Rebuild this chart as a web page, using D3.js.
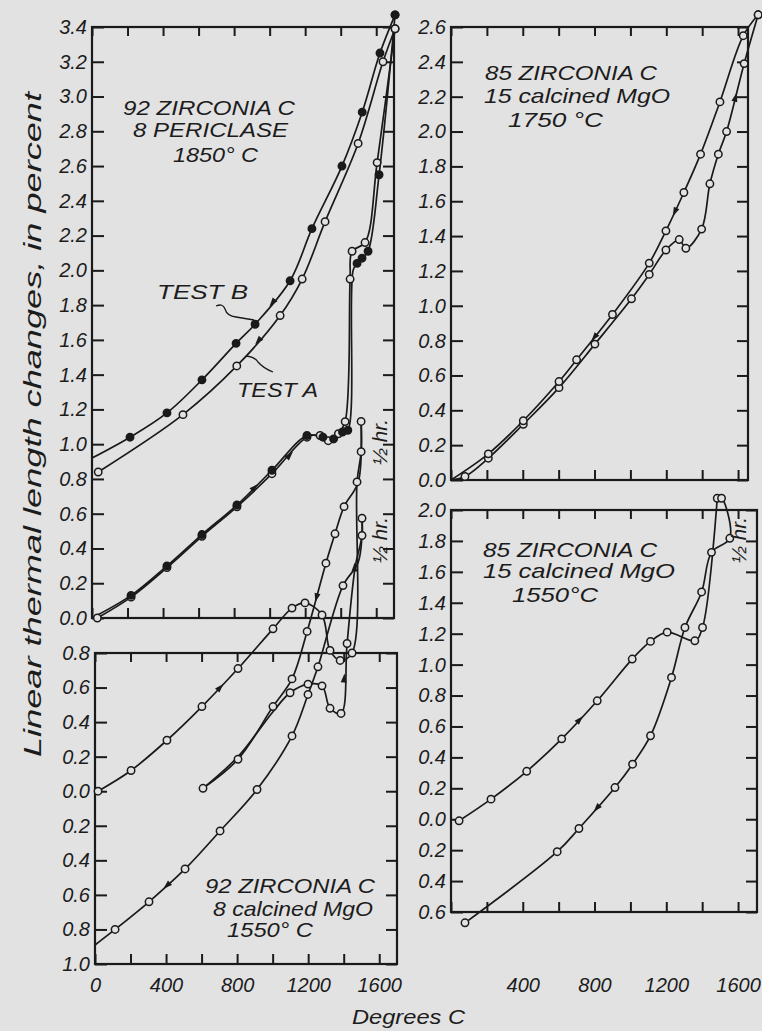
<!DOCTYPE html>
<html>
<head>
<meta charset="utf-8">
<script src="https://cdn.jsdelivr.net/npm/d3@7"></script>
<style>
body { margin: 0; background: #e2e2e2; }
svg { display: block; }
text { font-family: "Liberation Sans", Arial, sans-serif; font-style: italic; fill: #1c1c1c; }
</style>
</head>
<body>
<svg id="fig" width="762" height="1031"></svg>
<script>
// ---- data : [degrees C, percent, (0 = no point drawn)] ----
// 92 zirconia / 8 periclase, 1850 C
var aHeatA = [[30,0],[220,0.12],[422,0.29],[619,0.47],[816,0.64],[1013,0.83],[1210,1.04],[1284,1.05],[1330,1.02],[1387,1.06],[1425,1.13],[1453,1.95],[1464,2.11],[1537,2.16],[1605,2.62],[1706,3.39]],
    aHeatB = [[0,0,0],[220,0.13],[422,0.30],[619,0.48],[816,0.65],[1013,0.85],[1210,1.05],[1300,1.04],[1360,1.03],[1410,1.07],[1440,1.08],[1470,2.0,0],[1492,2.04],[1520,2.07],[1554,2.11],[1616,2.55],[1706,3.47]],
    aCoolA = [[1706,3.39],[1638,3.20],[1498,2.73],[1312,2.28],[1183,1.95],[1059,1.74],[815,1.45],[512,1.17],[35,0.84]],
    aCoolB = [[1706,3.47],[1621,3.25],[1521,2.91],[1407,2.60],[1238,2.24],[1115,1.94],[918,1.69],[811,1.58],[619,1.37],[422,1.18],[214,1.04],[0,0.92,0]];

// 85 zirconia / 15 calcined MgO, 1750 C
var bHeat = [[0,0,0],[78,0.02],[208,0.125],[403,0.32],[602,0.53],[802,0.78],[1006,1.04],[1105,1.18],[1198,1.32],[1272,1.38],[1309,1.33],[1397,1.44],[1443,1.70],[1490,1.87],[1536,2.0],[1634,2.39],[1712,2.67]],
    bCool = [[1712,2.67],[1629,2.55],[1499,2.17],[1391,1.87],[1298,1.65],[1198,1.43],[1105,1.245],[900,0.95],[700,0.69],[602,0.565],[403,0.34],[208,0.15],[0,0,0]];

// 92 zirconia / 8 calcined MgO, 1550 C
var c1Heat = [[17,0],[203,0.12],[405,0.295],[602,0.49],[805,0.71],[1002,0.94],[1109,1.06],[1182,1.09],[1278,1.02],[1323,0.815],[1380,0.757],[1447,0.80],[1475,1.79],[1498,1.965],[1498,2.14]],
    c1Cool = [[1498,2.14,0],[1482,1.79,0],[1402,1.647],[1351,1.49],[1300,1.32],[1194,0.925],[1109,0.65],[1002,0.49],[805,0.185],[608,0.017]],
    c2Heat = [[608,0.017,0],[805,0.2,0],[1002,0.46,0],[1098,0.57],[1199,0.62],[1278,0.61],[1323,0.48],[1385,0.45],[1419,0.855],[1465,1.3,0],[1503,1.48],[1503,1.58]],
    c2Cool = [[1503,1.58,0],[1503,1.48,0],[1480,1.32,0],[1396,1.19],[1255,0.72],[1199,0.56],[1109,0.32],[912,0.01],[704,-0.23],[507,-0.45],[304,-0.64],[113,-0.80],[0,-0.89,0]];

// 85 zirconia / 15 calcined MgO, 1550 C
var dHeat = [[45,-0.01],[223,0.13],[422,0.31],[617,0.52],[815,0.766],[1010,1.036],[1112,1.15],[1205,1.21],[1359,1.154],[1402,1.24],[1484,2.076]],
    dCool = [[1484,2.076,0],[1508,2.076],[1554,1.817],[1452,1.726],[1397,1.47],[1304,1.24],[1229,0.917],[1112,0.54],[1012,0.356],[914,0.205],[713,-0.06],[592,-0.21],[78,-0.67]];

var xTicks = d3.range(0, 1601, 200),
    xLabelsC = [0, 400, 800, 1200, 1600],
    xLabelsD = [400, 800, 1200, 1600],
    yTicksA = d3.range(0, 18).map(function(i){ return i/5; }),
    yTicksB = d3.range(0, 14).map(function(i){ return i/5; }),
    yTicksC = d3.range(-5, 5).map(function(i){ return i/5; }),
    yTicksD = d3.range(-3, 11).map(function(i){ return i/5; });

var bg = "#e2e2e2", ink = "#1a1a1a";

var panels = {
    A: {left:92,  right:394, top:27,  bottom:618, yMin:0,    yMax:3.4, frameR:394, yt:yTicksA},
    B: {left:451, right:756, top:27,  bottom:480, yMin:0,    yMax:2.6, frameR:748, yt:yTicksB},
    C: {left:95,  right:397, top:653, bottom:964, yMin:-1.0, yMax:0.8, frameR:397, yt:yTicksC, xl:xLabelsC},
    D: {left:451, right:756, top:510, bottom:912, yMin:-0.6, yMax:2.0, frameR:757, yt:yTicksD, xl:xLabelsD}
};

var seriesList = [
    {p:"A", pts:aHeatA, mark:"open",   arrows:[5]},
    {p:"A", pts:aHeatB, mark:"filled", arrows:[4]},
    {p:"A", pts:aCoolA, mark:"open",   arrows:[5]},
    {p:"A", pts:aCoolB, mark:"filled", arrows:[5]},
    {p:"B", pts:bHeat,  mark:"open",   arrows:[14]},
    {p:"B", pts:bCool,  mark:"open",   arrows:[4, 7]},
    {p:"C", pts:c1Heat, mark:"open",   arrows:[3, 11]},
    {p:"C", pts:c1Cool, mark:"open",   arrows:[4]},
    {p:"C", pts:c2Heat, mark:"open",   arrows:[7]},
    {p:"C", pts:c2Cool, mark:"open",   arrows:[9]},
    {p:"D", pts:dHeat,  mark:"open",   arrows:[3]},
    {p:"D", pts:dCool,  mark:"open",   arrows:[9]}
];

var notes = [
    {t:"92 ZIRCONIA  C",  x:123, y:115,  w:172},
    {t:"8 PERICLASE",     x:133, y:137,  w:155},
    {t:"1850° C",         x:173, y:162,  w:85},
    {t:"TEST B",          x:157, y:299,  w:91},
    {t:"TEST A",          x:237, y:397,  w:81},
    {t:"85 ZIRCONIA  C",  x:485, y:80,   w:172},
    {t:"15 calcined MgO", x:484, y:103,  w:186},
    {t:"1750 °C",         x:508, y:127,  w:95},
    {t:"85 ZIRCONIA  C",  x:483, y:557,  w:174},
    {t:"15 calcined MgO", x:483, y:578,  w:192},
    {t:"1550°C",          x:512, y:602,  w:86},
    {t:"92 ZIRCONIA C",   x:205, y:893,  w:170},
    {t:"8 calcined MgO",  x:213, y:916,  w:160},
    {t:"1550° C",         x:227, y:937,  w:86},
    {t:"Degrees C",       x:352, y:1024, w:113}
];

var halfHr = [[387, 442], [387, 540], [746, 540]];

var svg = d3.select("#fig");
svg.append("rect").attr("width", 762).attr("height", 1031).attr("fill", bg);

// scales
Object.keys(panels).forEach(function(k){
    var p = panels[k];
    p.x = d3.scaleLinear().domain([0, 1700]).range([p.left, p.right]);
    p.y = d3.scaleLinear().domain([p.yMin, p.yMax]).range([p.bottom, p.top]);
});

function fmt(d){ return Math.abs(d).toFixed(1); }

// frames and axes
Object.keys(panels).forEach(function(k){
    var p = panels[k],
        g = svg.append("g").style("color", ink);

    g.append("rect")
        .attr("x", p.left).attr("y", p.top)
        .attr("width", p.frameR - p.left).attr("height", p.bottom - p.top)
        .attr("fill", "none").attr("stroke", ink).attr("stroke-width", 2.2);

    g.append("g").attr("transform", "translate(" + p.left + ",0)")
        .call(d3.axisLeft(p.y).tickValues(p.yt).tickSize(-12).tickSizeOuter(0).tickPadding(5).tickFormat(fmt))
        .attr("font-size", 20);
    g.append("g").attr("transform", "translate(" + p.frameR + ",0)")
        .call(d3.axisRight(p.y).tickValues(p.yt).tickSize(-11).tickSizeOuter(0).tickFormat(""));
    g.append("g").attr("transform", "translate(0," + p.top + ")")
        .call(d3.axisTop(p.x).tickValues(xTicks).tickSize(-9).tickSizeOuter(0).tickFormat(""));
    g.append("g").attr("transform", "translate(0," + p.bottom + ")")
        .call(d3.axisBottom(p.x).tickValues(xTicks).tickSize(-10).tickSizeOuter(0).tickFormat(""));

    if(p.xl){
        g.append("g").attr("transform", "translate(0,964)")
            .call(d3.axisBottom(p.x).tickValues(p.xl).tickSize(0).tickPadding(14).tickFormat(d3.format("d")))
            .attr("font-size", 20);
    }
    g.selectAll(".domain").remove();
    g.selectAll(".tick line").attr("stroke-width", 2);
});

// curves
var lineCont = svg.append("g"), dotCont = svg.append("g");

seriesList.forEach(function(s){
    var p = panels[s.p],
        line = d3.line()
            .x(function(d){ return p.x(d[0]); })
            .y(function(d){ return p.y(d[1]); })
            .curve(d3.curveCatmullRom.alpha(0.5));

    lineCont.append("path")
        .attr("d", line(s.pts))
        .attr("fill", "none")
        .attr("stroke", ink)
        .attr("stroke-width", 1.7);

    s.arrows.forEach(function(i){
        var a = s.pts[i], b = s.pts[i+1],
            x0 = p.x(a[0]), y0 = p.y(a[1]), x1 = p.x(b[0]), y1 = p.y(b[1]),
            ang = Math.atan2(y1 - y0, x1 - x0) * 180 / Math.PI;
        lineCont.append("path")
            .attr("d", "M5,0L-4,-3L-4,3Z")
            .attr("fill", ink)
            .attr("transform", "translate(" + (x0 + x1)/2 + "," + (y0 + y1)/2 + ") rotate(" + ang + ")");
    });

    dotCont.selectAll(null)
        .data(s.pts.filter(function(d){ return d[2] !== 0; }))
        .enter()
        .append("circle")
        .attr("cx", function(d){ return p.x(d[0]); })
        .attr("cy", function(d){ return p.y(d[1]); })
        .attr("r", 3.7)
        .attr("fill", s.mark === "filled" ? ink : bg)
        .attr("stroke", ink)
        .attr("stroke-width", 1.5);
});

// leaders for TEST A / TEST B
svg.append("path")
    .attr("d", "M216,306 q7,-3 9,3 q2,7 11,8 L254,320")
    .attr("fill", "none").attr("stroke", ink).attr("stroke-width", 1.3);
svg.append("path")
    .attr("d", "M246,356 q9,1 12,6 q5,6 15,10")
    .attr("fill", "none").attr("stroke", ink).attr("stroke-width", 1.3);

// labels
svg.selectAll(".note")
    .data(notes)
    .enter()
    .append("text")
    .attr("class", "note")
    .attr("x", function(d){ return d.x; })
    .attr("y", function(d){ return d.y; })
    .attr("textLength", function(d){ return d.w; })
    .attr("lengthAdjust", "spacingAndGlyphs")
    .style("font-size", "21px")
    .text(function(d){ return d.t; });

svg.selectAll(".half")
    .data(halfHr)
    .enter()
    .append("text")
    .attr("class", "half")
    .attr("transform", function(d){ return "translate(" + d[0] + "," + d[1] + ") rotate(-90)"; })
    .attr("text-anchor", "middle")
    .attr("textLength", 46)
    .attr("lengthAdjust", "spacingAndGlyphs")
    .style("font-size", "20px")
    .text("½ hr.");

svg.append("text")
    .attr("transform", "translate(41,757) rotate(-90)")
    .attr("textLength", 665)
    .attr("lengthAdjust", "spacingAndGlyphs")
    .style("font-size", "24px")
    .text("Linear thermal length changes, in percent");
</script>
</body>
</html>
